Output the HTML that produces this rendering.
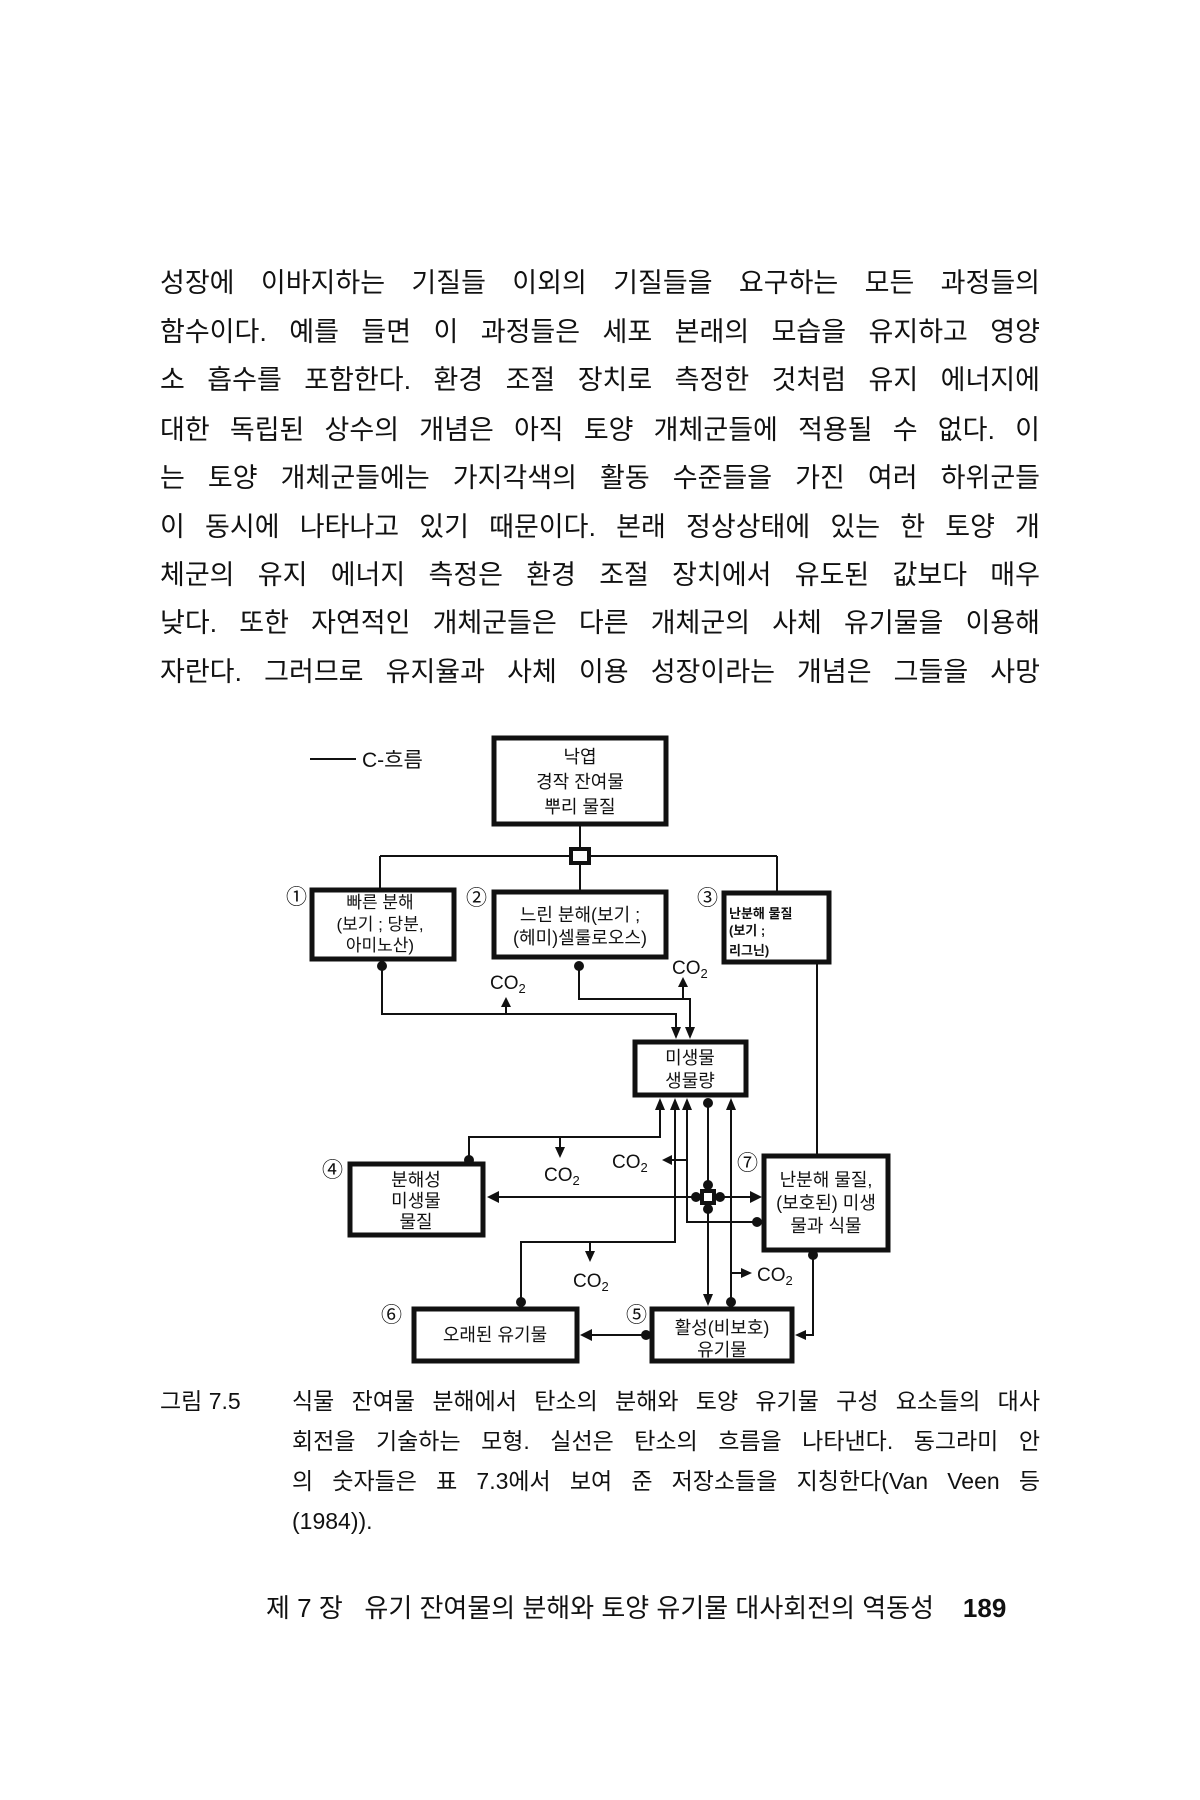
<!DOCTYPE html>
<html><head><meta charset="utf-8"><style>
html,body{margin:0;padding:0;background:#fff;}
body{width:1200px;height:1800px;position:relative;overflow:hidden;font-family:"Liberation Serif","Noto Serif CJK SC","Noto Sans CJK KR",serif;color:#111;}
.l{position:absolute;left:160px;width:880px;font-size:27px;line-height:30px;text-align:justify;text-align-last:justify;white-space:nowrap;font-family:"Liberation Sans","Noto Sans CJK KR",sans-serif;}
.c{position:absolute;font-size:23px;line-height:28px;font-family:"Liberation Sans","Noto Sans CJK KR",sans-serif;white-space:nowrap;}
svg{position:absolute;left:0;top:0;}
svg text{font-family:"Liberation Sans","Noto Sans CJK KR",sans-serif;fill:#111;}
</style></head><body>
<div class="l" style="top:268px">성장에 이바지하는 기질들 이외의 기질들을 요구하는 모든 과정들의</div>
<div class="l" style="top:317px">함수이다. 예를 들면 이 과정들은 세포 본래의 모습을 유지하고 영양</div>
<div class="l" style="top:365px">소 흡수를 포함한다. 환경 조절 장치로 측정한 것처럼 유지 에너지에</div>
<div class="l" style="top:415px">대한 독립된 상수의 개념은 아직 토양 개체군들에 적용될 수 없다. 이</div>
<div class="l" style="top:463px">는 토양 개체군들에는 가지각색의 활동 수준들을 가진 여러 하위군들</div>
<div class="l" style="top:512px">이 동시에 나타나고 있기 때문이다. 본래 정상상태에 있는 한 토양 개</div>
<div class="l" style="top:560px">체군의 유지 에너지 측정은 환경 조절 장치에서 유도된 값보다 매우</div>
<div class="l" style="top:608px">낮다. 또한 자연적인 개체군들은 다른 개체군의 사체 유기물을 이용해</div>
<div class="l" style="top:657px">자란다. 그러므로 유지율과 사체 이용 성장이라는 개념은 그들을 사망</div>

<div class="c" style="left:160px;top:1387px">그림 7.5</div>
<div class="c" style="left:292px;top:1387px;width:748px;text-align:justify;text-align-last:justify">식물 잔여물 분해에서 탄소의 분해와 토양 유기물 구성 요소들의 대사</div>
<div class="c" style="left:292px;top:1427px;width:748px;text-align:justify;text-align-last:justify">회전을 기술하는 모형. 실선은 탄소의 흐름을 나타낸다. 동그라미 안</div>
<div class="c" style="left:292px;top:1467px;width:748px;text-align:justify;text-align-last:justify">의 숫자들은 표 7.3에서 보여 준 저장소들을 지칭한다(Van Veen 등</div>
<div class="c" style="left:292px;top:1507px">(1984)).</div>
<div class="c" style="left:266px;top:1594px;font-size:26px">제 7 장&nbsp;&nbsp; 유기 잔여물의 분해와 토양 유기물 대사회전의 역동성&nbsp;&nbsp;&nbsp; <b>189</b></div>

<svg width="1200" height="1800" viewBox="0 0 1200 1800">
<g fill="none" stroke="#111" stroke-width="2">
<line x1="310" y1="759" x2="356" y2="759"/>
<line x1="580" y1="825" x2="580" y2="850"/>
<line x1="380" y1="856" x2="777" y2="856"/>
<line x1="380" y1="856" x2="380" y2="888"/>
<line x1="777" y1="856" x2="777" y2="891"/>
<line x1="580" y1="864" x2="580" y2="890"/>
<polyline points="382,967 382,1014 676,1014 676,1030"/>
<line x1="506" y1="1014" x2="506" y2="1002"/>
<polyline points="579,966 579,999 690,999 690,1030"/>
<line x1="683" y1="999" x2="683" y2="982"/>
<line x1="817" y1="964" x2="817" y2="1154"/>
<polyline points="660,1108 660,1137 469,1137 469,1160"/>
<line x1="560" y1="1137" x2="560" y2="1150"/>
<polyline points="687,1108 687,1222 757,1222"/>
<line x1="687" y1="1160" x2="668" y2="1160"/>
<line x1="494" y1="1197" x2="754" y2="1197"/>
<line x1="708" y1="1103" x2="708" y2="1296"/>
<polyline points="675,1108 675,1242 521,1242 521,1302"/>
<line x1="590" y1="1242" x2="590" y2="1255"/>
<line x1="731" y1="1108" x2="731" y2="1302"/>
<line x1="731" y1="1273" x2="745" y2="1273"/>
<polyline points="813,1255 813,1335 804,1335"/>
<line x1="646" y1="1335" x2="590" y2="1335"/>
</g>
<g fill="#fff" stroke="#111" stroke-width="5">
<rect x="494" y="738" width="172" height="86"/>
<rect x="312" y="890" width="142" height="69"/>
<rect x="494" y="892" width="172" height="65"/>
<rect x="724" y="893" width="105" height="69"/>
<rect x="635" y="1042" width="111" height="53"/>
<rect x="350" y="1164" width="133" height="71"/>
<rect x="764" y="1156" width="124" height="94"/>
<rect x="652" y="1309" width="140" height="52"/>
<rect x="414" y="1309" width="163" height="52"/>
</g>
<g fill="#fff" stroke="#111" stroke-width="4">
<rect x="571" y="849" width="18" height="14"/>
<rect x="702" y="1191" width="12" height="12"/>
</g>
<g fill="#111">
<polygon points="506,997 501,1007 511,1007"/>
<polygon points="683,977 678,987 688,987"/>
<polygon points="676,1039 671,1027 681,1027"/>
<polygon points="690,1039 685,1027 695,1027"/>
<polygon points="660,1098 655,1110 665,1110"/>
<polygon points="675,1098 670,1110 680,1110"/>
<polygon points="687,1098 682,1110 692,1110"/>
<polygon points="731,1098 726,1110 736,1110"/>
<polygon points="560,1158 555,1147 565,1147"/>
<polygon points="662,1160 672,1155 672,1165"/>
<polygon points="487,1197 499,1191 499,1203"/>
<polygon points="762,1197 750,1191 750,1203"/>
<polygon points="708,1306 703,1294 713,1294"/>
<polygon points="590,1262 585,1251 595,1251"/>
<polygon points="752,1273 741,1268 741,1278"/>
<polygon points="795,1335 806,1330 806,1340"/>
<polygon points="580,1335 592,1329 592,1341"/>
<circle cx="382" cy="966" r="5"/>
<circle cx="579" cy="966" r="5"/>
<circle cx="708" cy="1103" r="5"/>
<circle cx="469" cy="1160" r="5"/>
<circle cx="757" cy="1222" r="5"/>
<circle cx="708" cy="1185" r="5"/>
<circle cx="708" cy="1209" r="5"/>
<circle cx="696" cy="1197" r="5"/>
<circle cx="720" cy="1197" r="5"/>
<circle cx="521" cy="1302" r="5"/>
<circle cx="731" cy="1302" r="5"/>
<circle cx="813" cy="1255" r="5"/>
<circle cx="646" cy="1335" r="5"/>
</g>
<g font-size="21">
<text x="362" y="767">C-흐름</text>
<text x="286" y="904">①</text>
<text x="466" y="905">②</text>
<text x="697" y="905">③</text>
<text x="322" y="1177">④</text>
<text x="626" y="1322">⑤</text>
<text x="381" y="1322">⑥</text>
<text x="737" y="1170">⑦</text>
</g>
<g font-size="18" text-anchor="middle">
<text x="580" y="763">낙엽</text>
<text x="580" y="788">경작 잔여물</text>
<text x="580" y="813">뿌리 물질</text>
<text x="380" y="908" font-size="17">빠른 분해</text>
<text x="380" y="930" font-size="17">(보기 ; 당분,</text>
<text x="380" y="951" font-size="17">아미노산)</text>
<text x="580" y="921">느린 분해(보기 ;</text>
<text x="580" y="944">(헤미)셀룰로오스)</text>
<text x="690" y="1064">미생물</text>
<text x="690" y="1087">생물량</text>
<text x="416" y="1186">분해성</text>
<text x="416" y="1207">미생물</text>
<text x="416" y="1228">물질</text>
<text x="826" y="1186">난분해 물질,</text>
<text x="826" y="1209">(보호된) 미생</text>
<text x="826" y="1232">물과 식물</text>
<text x="722" y="1334">활성(비보호)</text>
<text x="722" y="1356">유기물</text>
<text x="495" y="1341">오래된 유기물</text>
</g>
<g font-size="13" font-weight="bold">
<text x="729" y="918">난분해 물질</text>
<text x="729" y="935">(보기 ;</text>
<text x="729" y="955">리그닌)</text>
</g>
<g font-size="19">
<text x="490" y="989">CO<tspan font-size="13" dy="4">2</tspan></text>
<text x="672" y="974">CO<tspan font-size="13" dy="4">2</tspan></text>
<text x="544" y="1181">CO<tspan font-size="13" dy="4">2</tspan></text>
<text x="612" y="1168">CO<tspan font-size="13" dy="4">2</tspan></text>
<text x="573" y="1287">CO<tspan font-size="13" dy="4">2</tspan></text>
<text x="757" y="1281">CO<tspan font-size="13" dy="4">2</tspan></text>
</g>
</svg>
</body></html>
